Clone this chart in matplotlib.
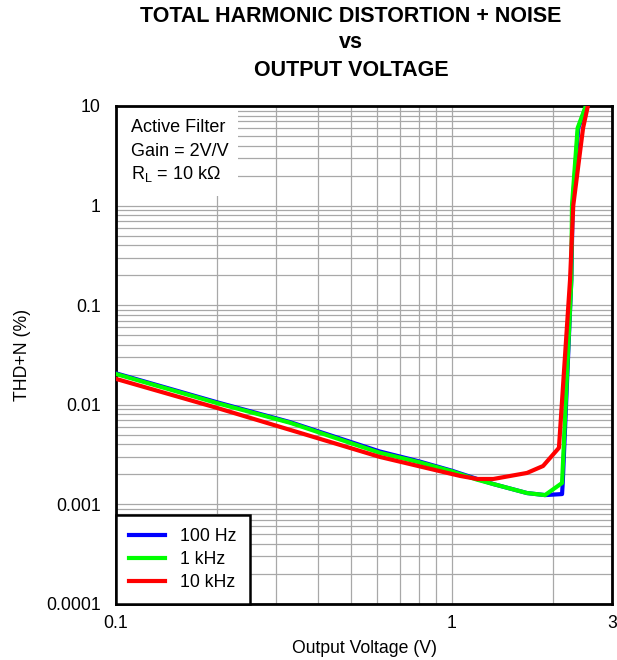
import matplotlib
matplotlib.use("Agg")
import matplotlib.pyplot as plt
from matplotlib.patches import Rectangle
from matplotlib.ticker import FixedLocator, LogLocator, NullFormatter, FixedFormatter

plt.rcParams["font.family"] = ["Liberation Sans", "DejaVu Sans"]
plt.rcParams["mathtext.fontset"] = "custom"
plt.rcParams["mathtext.rm"] = "Liberation Sans"

# ------------------------------------------------------------
# Daten
# ------------------------------------------------------------
v_100hz = [0.1, 0.2, 0.33, 0.61, 0.8, 1.0, 1.19, 1.33, 1.675, 1.895, 2.13, 2.14, 2.27, 2.29, 2.38, 2.53]
thd_100hz = [0.0207, 0.0106, 0.0067, 0.0034, 0.0027, 0.00218, 0.0018, 0.0016, 0.0013, 0.00124, 0.00127, 0.00164, 0.18, 1.0, 6.0, 10.5]

v_1khz = [0.1, 0.2, 0.33, 0.61, 0.8, 1.0, 1.19, 1.33, 1.675, 1.895, 2.13, 2.27, 2.28, 2.37, 2.52]
thd_1khz = [0.0204, 0.0104, 0.0066, 0.0033, 0.00265, 0.00215, 0.00177, 0.0016, 0.0013, 0.00124, 0.00164, 0.18, 1.0, 6.0, 10.5]

v_10khz = [0.1, 0.2, 0.33, 0.61, 0.97, 1.06, 1.19, 1.33, 1.675, 1.87, 2.085, 2.25, 2.30, 2.46, 2.55]
thd_10khz = [0.0182, 0.0093, 0.0056, 0.0030, 0.00207, 0.00193, 0.0018, 0.0018, 0.00207, 0.00243, 0.0037, 0.18, 1.0, 6.0, 10.5]

series = [
    ("100 Hz", v_100hz, thd_100hz, "#0000ff"),
    ("1 kHz", v_1khz, thd_1khz, "#00ff00"),
    ("10 kHz", v_10khz, thd_10khz, "#ff0000"),
]

x_ticks = [0.1, 1, 3]
x_ticklabels = ["0.1", "1", "3"]
y_ticks = [0.0001, 0.001, 0.01, 0.1, 1, 10]
y_ticklabels = ["0.0001", "0.001", "0.01", "0.1", "1", "10"]

title_lines = ["TOTAL HARMONIC DISTORTION + NOISE", "vs", "OUTPUT VOLTAGE"]
notes = ["Active Filter", "Gain = 2V/V", r"R$_\mathrm{L}$ = 10 k$\Omega$"]

# ------------------------------------------------------------
# Plot
# ------------------------------------------------------------
W, H = 617, 660
fig = plt.figure(figsize=(W / 100, H / 100), dpi=100)
ax = fig.add_axes([116 / W, 1 - 604 / H, 496 / W, 498 / H])

ax.set_xscale("log")
ax.set_yscale("log")
ax.set_xlim(0.1, 3)
ax.set_ylim(0.0001, 10)

for label, v, thd, col in series:
    ax.plot(v, thd, color=col, lw=3.0, label=label, zorder=3)

ax.xaxis.set_major_locator(FixedLocator(x_ticks))
ax.xaxis.set_major_formatter(FixedFormatter(x_ticklabels))
ax.xaxis.set_minor_locator(LogLocator(base=10, subs=range(2, 10)))
ax.xaxis.set_minor_formatter(NullFormatter())
ax.yaxis.set_major_locator(FixedLocator(y_ticks))
ax.yaxis.set_major_formatter(FixedFormatter(y_ticklabels))
ax.yaxis.set_minor_locator(LogLocator(base=10, subs=range(2, 10), numticks=20))
ax.yaxis.set_minor_formatter(NullFormatter())

ax.grid(True, which="both", color="#a8a8a8", lw=0.9, zorder=0)
ax.set_axisbelow(True)
ax.tick_params(which="both", length=0, labelsize=12.7)
ax.tick_params(axis="y", pad=11)
ax.tick_params(axis="x", pad=8)

for s in ax.spines.values():
    s.set_linewidth(2.0)
    s.set_color("black")

# Beschriftungskasten oben links
ax.add_patch(Rectangle((0, 1 - 90 / 498), 122 / 496, 90 / 498, transform=ax.transAxes,
                       facecolor="white", edgecolor="none", zorder=2))
for i, line in enumerate(notes):
    ax.text(15 / 496, 1 - (22 + 23 * i) / 498, line, transform=ax.transAxes,
            fontsize=13, va="center", ha="left", zorder=4)

leg = ax.legend(loc="lower left", bbox_to_anchor=(0, 0), borderaxespad=0,
                frameon=True, fancybox=False, fontsize=12.7, handlelength=2.0,
                handletextpad=0.9, borderpad=0.75, labelspacing=0.32)
leg.get_frame().set_edgecolor("black")
leg.get_frame().set_linewidth(1.8)
leg.get_frame().set_alpha(1)
leg.set_zorder(5)

ax.set_xlabel("Output Voltage (V)", fontsize=12.7, labelpad=6)
ax.set_ylabel("THD+N (%)", fontsize=12.7, labelpad=11)

for i, line in enumerate(title_lines):
    fig.text(351 / W, 1 - (16 + 27 * i) / H, line, ha="center", va="center",
             fontsize=15.5, fontweight="bold")

fig.savefig("out.png", dpi=100)
